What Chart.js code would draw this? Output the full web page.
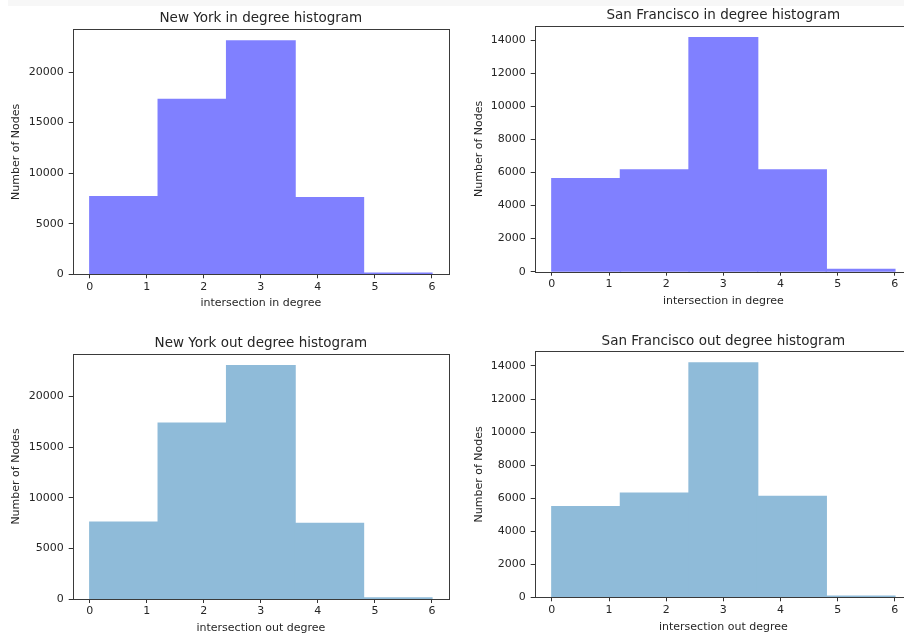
<!DOCTYPE html>
<html>
<head>
<meta charset="utf-8">
<script src="https://cdn.jsdelivr.net/npm/chart.js@4.4.1/dist/chart.umd.min.js"></script>
<style>
  html, body { margin: 0; padding: 0; background: #fff; width: 904px; height: 636px; overflow: hidden; position: relative; }
  .band { position: absolute; left: 8px; top: 0; width: 896px; height: 6px; background: #f7f7f7; }
  .panel { position: absolute; }
  canvas { display: block; }
</style>
</head>
<body>
<div class="band"></div>
<div class="panel" style="left:0px;top:0px;"><canvas id="c1" width="460" height="318"></canvas></div>
<div class="panel" style="left:452px;top:0px;"><canvas id="c2" width="470" height="318"></canvas></div>
<div class="panel" style="left:0px;top:318px;"><canvas id="c3" width="460" height="318"></canvas></div>
<div class="panel" style="left:452px;top:318px;"><canvas id="c4" width="470" height="318"></canvas></div>
<script>
// ---- data ----
const binEdges = [0, 1.2, 2.4, 3.6, 4.8, 6.0];
const xTickValues = [0, 1, 2, 3, 4, 5, 6];
const nyTicks = [0, 5000, 10000, 15000, 20000];
const sfTicks = [0, 2000, 4000, 6000, 8000, 10000, 12000, 14000];

const nyInCounts  = [7680, 17280, 23070, 7580, 110];
const sfInCounts  = [5620, 6160, 14150, 6160, 140];
const nyOutCounts = [7590, 17360, 23040, 7460, 100];
const sfOutCounts = [5490, 6300, 14180, 6100, 70];

const titles = [
  'New York in degree histogram',
  'San Francisco in degree histogram',
  'New York out degree histogram',
  'San Francisco out degree histogram'
];
const xLabels = ['intersection in degree', 'intersection in degree', 'intersection out degree', 'intersection out degree'];
const yLabel = 'Number of Nodes';

// ---- layout (pixel positions relative to each canvas) ----
const layouts = [
  { id: 'c1', w: 460, h: 318, left: 72.7, right: 449, top: 29.3, bottom: 274.3, titleY: 18, xTitleY: 303.3, yTitleX: 16 },
  { id: 'c2', w: 470, h: 318, left: 82.7, right: 460, top: 26, bottom: 271.7, titleY: 15, xTitleY: 301, yTitleX: 26.7 },
  { id: 'c3', w: 460, h: 318, left: 72.7, right: 449, top: 36, bottom: 281, titleY: 25, xTitleY: 310, yTitleX: 16 },
  { id: 'c4', w: 470, h: 318, left: 82.7, right: 460, top: 33.3, bottom: 279.3, titleY: 23.3, xTitleY: 309, yTitleX: 26.7 }
];

const FONT = "'DejaVu Sans', sans-serif";
const TXT = '#262626';
const TITLE_SIZE = 13.5;
const LABEL_SIZE = 11;

const spinePlugin = {
  id: 'spines',
  afterDatasetsDraw(chart) {
    const a = chart.chartArea, ctx = chart.ctx;
    ctx.save();
    ctx.strokeStyle = '#3a3a3a';
    ctx.lineWidth = 1;
    const l = Math.round(a.left) + 0.5, t = Math.round(a.top) + 0.5;
    const r = Math.round(a.right) + 0.5, b = Math.round(a.bottom) + 0.5;
    ctx.strokeRect(l, t, r - l, b - t);
    ctx.restore();
  }
};

function makeChart(idx, counts, yTicks, fill) {
  const L = layouts[idx];
  const centers = counts.map((_, i) => (binEdges[i] + binEdges[i + 1]) / 2);
  const span = binEdges[binEdges.length - 1] - binEdges[0];
  const xMin = binEdges[0] - 0.05 * span;
  const xMax = binEdges[binEdges.length - 1] + 0.05 * span;
  const titleLH = TITLE_SIZE * 1.2;
  const axisLH = LABEL_SIZE * 1.2;
  const tPadTop = L.titleY - titleLH / 2;
  const tPadBot = L.top - tPadTop - titleLH;
  const xAxisH = L.h - L.bottom;
  const xTitlePadBot = (L.h - L.xTitleY) - axisLH / 2;
  const yTitlePadTop = L.yTitleX - axisLH / 2;
  const yMax = Math.max(...counts) * 1.05;
  const labelFont = { family: FONT, size: LABEL_SIZE, lineHeight: 1.2 };

  new Chart(document.getElementById(L.id), {
    type: 'bar',
    data: {
      datasets: [{
        xAxisID: 'xb',
        data: centers.map((c, i) => ({ x: c, y: counts[i] })),
        backgroundColor: fill,
        borderWidth: 0,
        inflateAmount: 0.7,
        barPercentage: 1,
        categoryPercentage: 1,
        grouped: false
      }]
    },
    options: {
      responsive: false,
      animation: false,
      devicePixelRatio: 1,
      layout: { padding: { left: 0, right: L.w - L.right, top: 0, bottom: 0 } },
      plugins: {
        legend: { display: false },
        tooltip: { enabled: false },
        title: {
          display: true,
          text: titles[idx],
          fullSize: false,
          color: TXT,
          font: { family: FONT, size: TITLE_SIZE, weight: 'normal', lineHeight: 1.2 },
          padding: { top: tPadTop, bottom: tPadBot }
        }
      },
      scales: {
        xb: {
          type: 'linear',
          display: false,
          offset: false,
          min: xMin,
          max: xMax,
          afterBuildTicks: ax => { ax.ticks = binEdges.map(v => ({ value: v })); }
        },
        x: {
          type: 'linear',
          position: 'bottom',
          offset: false,
          min: xMin,
          max: xMax,
          afterBuildTicks: ax => { ax.ticks = xTickValues.map(v => ({ value: v })); },
          afterFit: ax => { ax.height = xAxisH; },
          grid: { display: true, offset: false, drawOnChartArea: false, drawTicks: true, tickLength: 4, tickColor: '#333', tickWidth: 1 },
          border: { display: false },
          ticks: { color: TXT, padding: 2, maxRotation: 0, autoSkip: false, font: labelFont, callback: v => String(v) },
          title: { display: true, text: xLabels[idx], color: TXT, font: labelFont, padding: { top: 2, bottom: xTitlePadBot } }
        },
        y: {
          type: 'linear',
          min: 0,
          max: yMax,
          afterBuildTicks: ax => { ax.ticks = yTicks.map(v => ({ value: v })); },
          afterFit: ax => { ax.width = L.left; },
          grid: { display: true, drawOnChartArea: false, drawTicks: true, tickLength: 4, tickColor: '#333', tickWidth: 1 },
          border: { display: false },
          ticks: { color: TXT, padding: 5, autoSkip: false, font: labelFont, callback: v => String(v) },
          title: { display: true, text: yLabel, color: TXT, font: labelFont, padding: { top: yTitlePadTop, bottom: 0 } }
        }
      }
    },
    plugins: [spinePlugin]
  });
}

const inFill = '#8080ff';
const outFill = '#8fbbd9';

makeChart(0, nyInCounts, nyTicks, inFill);
makeChart(1, sfInCounts, sfTicks, inFill);
makeChart(2, nyOutCounts, nyTicks, outFill);
makeChart(3, sfOutCounts, sfTicks, outFill);
</script>
</body>
</html>
